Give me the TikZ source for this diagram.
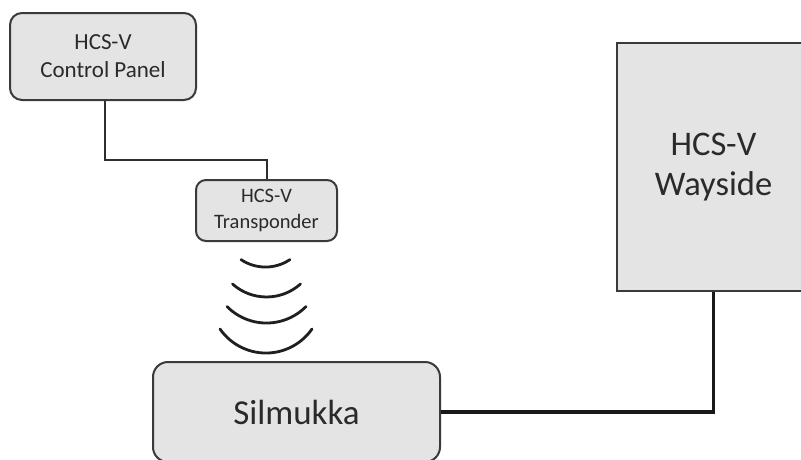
\documentclass[tikz,border=0pt]{standalone}
\usepackage{fontspec}
\setmainfont{Carlito}
\definecolor{boxfill}{HTML}{E4E4E4}
\definecolor{boxline}{HTML}{3A3A3A}
\definecolor{txt}{HTML}{2A2A2A}
\begin{document}
\begin{tikzpicture}[x=1pt,y=-1pt,
  box/.style={draw=boxline, line width=2pt, fill=boxfill, text=txt, align=center, inner sep=0pt},
  rbox/.style={box, rounded corners=12pt},
  wire/.style={draw=boxline!80!black, line width=2pt},
  thick wire/.style={draw=black!90, line width=3.4pt},
  wave/.style={draw=black!88, line width=2.8pt, line cap=round}]
\useasboundingbox (0,0) rectangle (801,459);
\begin{scope}
\clip (0,0) rectangle (801,459);
\node[rbox, minimum width=186pt, minimum height=87pt,
  font=\fontsize{23}{28}\selectfont] (cp) at (103,56.5) {HCS-V\\Control Panel};
\node[rbox, rounded corners=10pt, minimum width=141pt, minimum height=61pt,
  font=\fontsize{20.5}{26}\selectfont] (tr) at (266.5,210.5) {HCS-V\\Transponder};
\node[rbox, rounded corners=15pt, minimum width=287pt, minimum height=100pt,
  font=\fontsize{35}{40}\selectfont] (sil) at (296.5,412) {Silmukka};
\node[box, minimum width=193pt, minimum height=248pt,
  font=\fontsize{34.5}{40}\selectfont] (way) at (713.5,167) {HCS-V\\Wayside};
\coordinate (bend) at (105,160);
\draw[wire] (cp.south -| bend) -- (bend) -| (tr.north);
\draw[thick wire] (sil.east) -| (way.south);
\draw[wave] (241,259.6) arc[start angle=236.2, end angle=303.8, radius=44pt];
\draw[wave] (232.5,284) arc[start angle=228.2, end angle=311.8, radius=51pt];
\draw[wave] (227,306.5) arc[start angle=224.6, end angle=315.4, radius=55.5pt];
\draw[wave] (220,329) arc[start angle=214.8, end angle=325.2, radius=56pt];
\end{scope}
\end{tikzpicture}
\end{document}
